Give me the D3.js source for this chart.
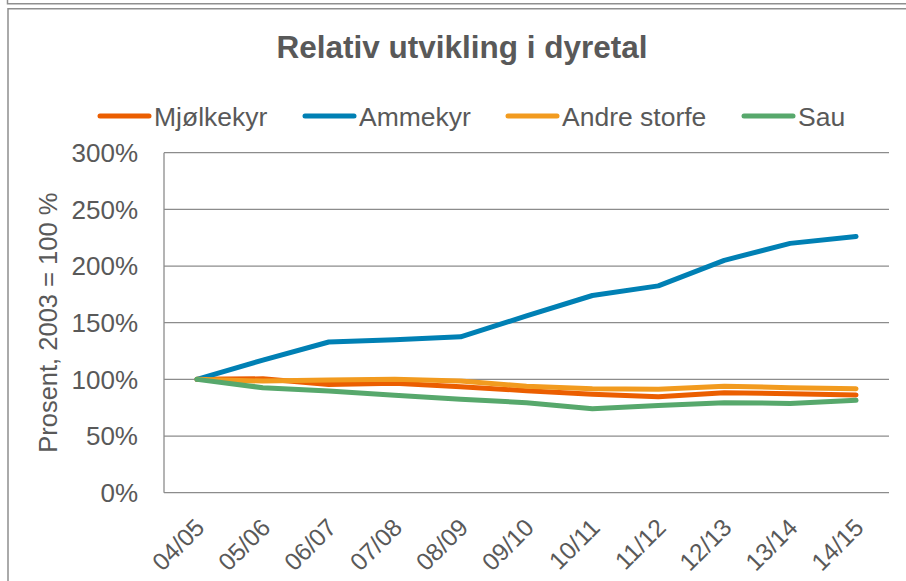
<!DOCTYPE html>
<html>
<head>
<meta charset="utf-8">
<script src="https://cdn.jsdelivr.net/npm/d3@7"></script>
<style>
  html, body { margin: 0; padding: 0; background: #fff; }
  svg { display: block; }
  text { font-family: "Liberation Sans", Arial, sans-serif; fill: #595959; }
</style>
</head>
<body>
<div id="chart"></div>
<script>
'use strict';

// data (percent, 2003 = 100)
const categories = ['04/05', '05/06', '06/07', '07/08', '08/09', '09/10', '10/11', '11/12', '12/13', '13/14', '14/15'];
const mjolkekyr = [100, 100.5, 95.5, 96.5, 93.5, 90, 86.8, 84.7, 88.2, 87.4, 86.2];
const ammekyr = [100, 117, 133, 135, 137.5, 156, 174, 182.5, 205, 220, 226];
const andreStorfe = [100, 98.5, 99.4, 100, 98.5, 94, 91.8, 91.2, 94, 92.6, 91.8];
const sau = [100, 92.6, 89.7, 86, 82.4, 79.4, 74, 77, 79.4, 78.8, 81.5];
const yTicks = [0, 50, 100, 150, 200, 250, 300];

const seriesNames = ['Mjølkekyr', 'Ammekyr', 'Andre storfe', 'Sau'];
const seriesColors = ['#eb5e00', '#0080b4', '#f29b1f', '#57a86c'];
const seriesValues = [mjolkekyr, ammekyr, andreStorfe, sau];

const W = 906, H = 581;
const plot = {left: 164, right: 889, top: 152.7, bottom: 492.7};

const svg = d3.select('#chart').append('svg').attr('width', W).attr('height', H);

// frame lines (bottom of previous box + this chart's box)
const frame = svg.append('g').attr('fill', 'none').attr('stroke', '#8f8f8f').attr('stroke-width', 1.5);
frame.append('path').attr('d', 'M7.5,0V3.8H906');
frame.append('path').attr('d', 'M8,581V8.8H906');

const x = d3.scalePoint().domain(categories).range([plot.left, plot.right]).padding(0.5);
const y = d3.scaleLinear().domain([0, 300]).range([plot.bottom, plot.top]);

// gridlines
svg.append('g').selectAll('line').data(yTicks).join('line')
  .attr('x1', plot.left).attr('x2', plot.right)
  .attr('y1', d => y(d)).attr('y2', d => y(d))
  .attr('stroke', '#8c8c8c').attr('stroke-width', 1.3);

// y axis line
svg.append('line')
  .attr('x1', plot.left).attr('x2', plot.left)
  .attr('y1', plot.top).attr('y2', plot.bottom)
  .attr('stroke', '#8c8c8c').attr('stroke-width', 1.3);

// y tick labels
svg.append('g').selectAll('text').data(yTicks).join('text')
  .attr('x', plot.left - 26).attr('y', d => y(d))
  .attr('dy', '0.36em').attr('text-anchor', 'end')
  .style('font-size', '26px')
  .text(d => d + '%');

// x tick labels, rotated
svg.append('g').selectAll('text').data(categories).join('text')
  .attr('transform', d => `translate(${x(d) + 9},${529}) rotate(-45)`)
  .attr('text-anchor', 'end')
  .style('font-size', '24.5px')
  .text(d => d);

// y axis title
svg.append('text')
  .attr('transform', `translate(57,${(plot.top + plot.bottom) / 2}) rotate(-90)`)
  .attr('text-anchor', 'middle')
  .style('font-size', '25.5px')
  .text('Prosent, 2003 = 100 %');

// title
svg.append('text')
  .attr('x', 462).attr('y', 58)
  .attr('text-anchor', 'middle')
  .style('font-size', '31.5px').style('font-weight', 'bold')
  .text('Relativ utvikling i dyretal');

// lines
const line = d3.line()
  .x((d, i) => x(categories[i]))
  .y(d => y(d));

svg.append('g').selectAll('path').data(seriesValues).join('path')
  .attr('fill', 'none')
  .attr('stroke', (d, i) => seriesColors[i])
  .attr('stroke-width', 5)
  .attr('stroke-linejoin', 'round')
  .attr('stroke-linecap', 'round')
  .attr('d', d => line(d));

// legend
const legendX = [100, 305, 508, 744];
const leg = svg.append('g').selectAll('g').data(seriesNames).join('g')
  .attr('transform', (d, i) => `translate(${legendX[i]},116)`);
leg.append('line')
  .attr('x1', 0).attr('x2', 49)
  .attr('stroke', (d, i) => seriesColors[i])
  .attr('stroke-width', 5).attr('stroke-linecap', 'round');
leg.append('text')
  .attr('x', 54).attr('dy', '0.36em')
  .style('font-size', '26.5px')
  .text(d => d);
</script>
</body>
</html>
